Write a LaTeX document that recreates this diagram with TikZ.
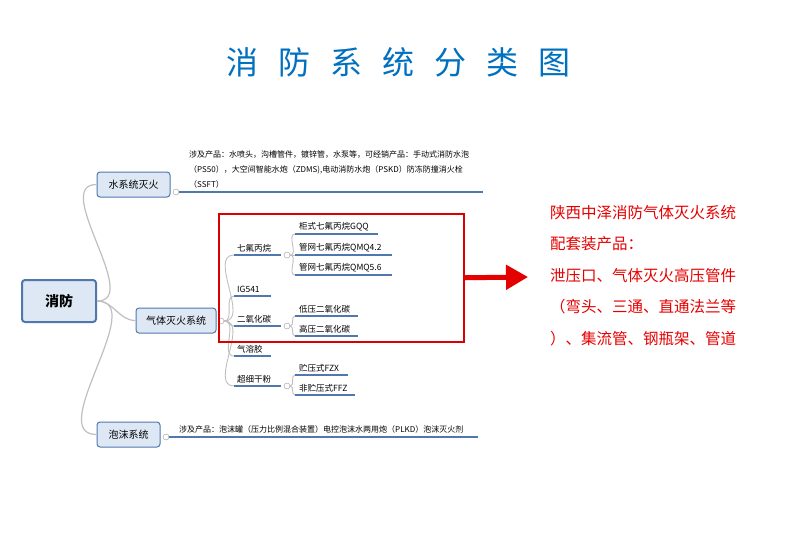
\documentclass[tikz,border=0pt]{standalone}
\usepackage{fontspec}
\usetikzlibrary{arrows.meta}
\setmainfont{Noto Sans CJK SC}
\definecolor{lb}{RGB}{80,120,175}
\definecolor{lf}{RGB}{222,232,244}
\definecolor{tb}{RGB}{0,112,192}
\begin{document}
\begin{tikzpicture}[x=1pt,y=-1pt,
 br/.style={draw=black!25,line width=1.2pt},
 ul/.style={draw=lb,line width=1.6pt},
 box/.style={draw=lb,fill=lf,rounded corners=3pt,line width=1pt,minimum height=25pt,font=\fontsize{10}{12}\selectfont,inner sep=2pt},
 lf/.style={anchor=south west,font=\fontsize{8.5}{9}\selectfont,inner sep=1pt},
 circ/.style={draw=black!40,fill=white,circle,inner sep=0pt,minimum size=6pt}]
\useasboundingbox (0,0) rectangle (800,550);
\node (title) at (398,62) {\fontsize{32}{36}\selectfont\color{tb}消\hspace{20pt}防\hspace{20pt}系\hspace{20pt}统\hspace{20pt}分\hspace{20pt}类\hspace{20pt}图};
\node[box,line width=2pt,minimum width=74pt,minimum height=42pt,font=\fontsize{14}{16}\selectfont\bfseries] (root) at (59,301) {消防};
\node[box,minimum width=73pt] (water) at (133.5,184.5) {水系统灭火};
\node[box,minimum width=80pt] (gas) at (176,320.5) {气体灭火系统};
\node[box,minimum width=63pt] (foam) at (128.5,434.5) {泡沫系统};
\draw[br] (root.east) to[out=0,in=180] (water.west);
\draw[br] (root.east) to[out=0,in=180] (gas.west);
\draw[br] (root.east) to[out=0,in=180] (foam.west);
% water
\coordinate (w1) at (176,192); \coordinate (w2) at (483,192);
\draw[ul] (w1) -- (w2);
\node[circ] (wc) at (w1) {};
\node[anchor=south west,align=left,font=\fontsize{8}{15}\selectfont,inner sep=1pt] (wt) at (188,189) {涉及产品：水喷头，沟槽管件，镀锌管，水泵等，可经销产品：手动式消防水泡\\（PS50），大空间智能水炮（ZDMS),电动消防水炮（PSKD）防冻防撞消火栓\\（SSFT）};
% foam
\coordinate (f1) at (166,437); \coordinate (f2) at (478,437);
\draw[ul] (f1) -- (f2);
\node[circ] (fc) at (f1) {};
\node[lf,font=\fontsize{8}{9}\selectfont] (ft) at (178,434) {涉及产品：泡沫罐（压力比例混合装置）电控泡沫水两用炮（PLKD）泡沫灭火剂};
% gas children
\node[circ] (gc) at (221,321) {};
\foreach \n/\y/\xe/\t in {a/255/281/七氟丙烷, b/296/271/IG541, c/326/281/二氧化碳, d/356/271/气溶胶, e/386/281/超细干粉}{
  \coordinate (\n0) at (234,\y); \coordinate (\n1) at (\xe,\y);
  \draw[br,line width=0.9pt] (gc) to[out=0,in=180] (\n0);
  \draw[ul] (\n0) -- (\n1);
  \node[lf] (\n t) at (236,\y-2) {\t};
}
\node[circ] (ac) at (287,255) {};
\node[circ] (cc) at (287,326) {};
\node[circ] (ec) at (287,386) {};
\foreach \p/\n/\y/\xe/\t in {ac/a1/234/378/柜式七氟丙烷GQQ, ac/a2/255/392/管网七氟丙烷QMQ4.2, ac/a3/275/392/管网七氟丙烷QMQ5.6, cc/c1/316/358/低压二氧化碳, cc/c2/336/358/高压二氧化碳, ec/e1/375/348/贮压式FZX, ec/e2/395/355/非贮压式FFZ}{
  \coordinate (\n0) at (295,\y); \coordinate (\n1) at (\xe,\y);
  \draw[br,line width=0.9pt] (\p) to[out=0,in=180] (\n0);
  \draw[ul] (\n0) -- (\n1);
  \node[lf] (\n t) at (298,\y-2) {\t};
}
\node[draw=red!85!black,line width=1.5pt,minimum width=245pt,minimum height=128pt,anchor=north west] (rr) at (218,213) {};
\coordinate (ae) at (528,277);
\draw[red!90!black,line width=5pt,-{Triangle[length=22pt,width=24pt]}] (rr.east) -- (ae);
\node[anchor=north west,align=left,text=red!90!black,font=\fontsize{15.5}{31.5}\selectfont,inner sep=0pt] (rt) at (550,205) {陕西中泽消防气体灭火系统\\配套装产品：\\泄压口、气体灭火高压管件\\（弯头、三通、直通法兰等\\）、集流管、钢瓶架、管道};
\end{tikzpicture}
\end{document}
